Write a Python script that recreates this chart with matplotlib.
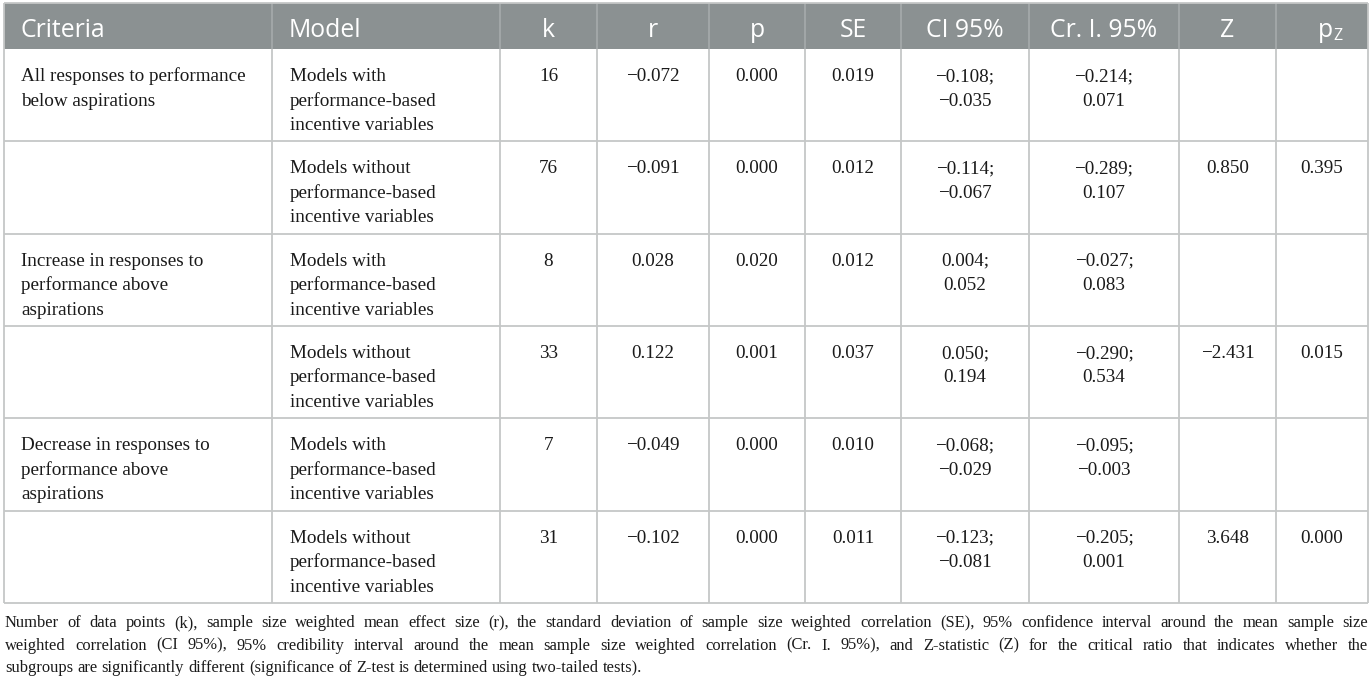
import matplotlib
matplotlib.use("Agg")
from matplotlib import pyplot as plt
from matplotlib.patches import Rectangle

# table content
headers = ["Criteria", "Model", "k", "r", "p", "SE", "CI 95%", "Cr. I. 95%", "Z", "p"]
criteria = ["All responses to performance\nbelow aspirations", "",
            "Increase in responses to\nperformance above\naspirations", "",
            "Decrease in responses to\nperformance above\naspirations", ""]
models = ["Models with\nperformance-based\nincentive variables",
          "Models without\nperformance-based\nincentive variables"] * 3
k = [16, 76, 8, 33, 7, 31]
r = [-0.072, -0.091, 0.028, 0.122, -0.049, -0.102]
p = [0.000, 0.000, 0.020, 0.001, 0.000, 0.000]
se = [0.019, 0.012, 0.012, 0.037, 0.010, 0.011]
ci_lo = [-0.108, -0.114, 0.004, 0.050, -0.068, -0.123]
ci_hi = [-0.035, -0.067, 0.052, 0.194, -0.029, -0.081]
cr_lo = [-0.214, -0.289, -0.027, -0.290, -0.095, -0.205]
cr_hi = [0.071, 0.107, 0.083, 0.534, -0.003, 0.001]
z = [None, 0.850, None, -2.431, None, 3.648]
pz = [None, 0.395, None, 0.015, None, 0.000]

footnote_lines = [
    "Number of data points (k), sample size weighted mean effect size (r), the standard deviation of "
    "sample size weighted correlation (SE), 95% confidence interval around the mean sample size",
    "weighted correlation (CI 95%), 95% credibility interval around the mean sample size weighted "
    "correlation (Cr. I. 95%), and Z-statistic (Z) for the critical ratio that indicates whether the",
    "subgroups are significantly different (significance of Z-test is determined using two-tailed tests).",
]

W, H = 1372, 683
col_x = [4, 272, 500, 597, 709, 805, 901, 1029, 1179, 1276, 1368]
top, head_bot, tab_bot = 3, 49, 603
n_rows = len(k)
row_h = (tab_bot - head_bot) / n_rows

HEAD_BG = "#8b9192"
GRID = "#c5c7c7"
TXT = "#1a1a1a"
SERIF = "Liberation Serif"
SANS = "Open Sans"
FS = 13.8
NOTE_FS = 11.9
HFS = 17.8


def fmt(v):
    if v is None:
        return ""
    s = "%.3f" % abs(v)
    return ("\u2212" + s) if v < 0 else s


fig = plt.figure(figsize=(W / 100, H / 100), dpi=100)
ax = fig.add_axes([0, 0, 1, 1])
ax.set_xlim(0, W)
ax.set_ylim(H, 0)
ax.axis("off")

# header band
ax.add_patch(Rectangle((col_x[0], top), col_x[-1] - col_x[0], head_bot - top,
                       facecolor=HEAD_BG, edgecolor="none"))
ax.vlines(col_x[1:-1], top, head_bot, color="#a9adae", lw=1.1)
for i, h in enumerate(headers):
    if i < 2:
        ax.text(col_x[i] + 17, 37, h, family=SANS, fontsize=HFS, color="white", va="baseline")
    elif i < 9:
        ax.text((col_x[i] + col_x[i + 1]) / 2, 37, h, family=SANS, fontsize=HFS,
                color="white", ha="center", va="baseline")
ax.text(1333, 37, "p", family=SANS, fontsize=HFS, color="white", ha="right", va="baseline")
ax.text(1333.5, 40, "Z", family=SANS, fontsize=11.5, color="white", ha="left", va="baseline")

# grid
ax.vlines([col_x[0], col_x[-1]], top, tab_bot, color=GRID, lw=1.3)
ax.vlines(col_x[1:-1], head_bot, tab_bot, color=GRID, lw=1.3)
ax.hlines([top], col_x[0], col_x[-1], color=GRID, lw=1.3)
ax.hlines([head_bot + row_h * i for i in range(1, n_rows + 1)], col_x[0], col_x[-1],
          color=GRID, lw=1.3)

line_gap = 24.5
for j in range(n_rows):
    y0 = head_bot + row_h * j + 32
    for li, line in enumerate(criteria[j].split("\n")):
        if line:
            ax.text(col_x[0] + 17, y0 + li * line_gap, line, family=SERIF, fontsize=FS,
                    color=TXT, va="baseline")
    for li, line in enumerate(models[j].split("\n")):
        ax.text(col_x[1] + 18, y0 + li * line_gap, line, family=SERIF, fontsize=FS,
                color=TXT, va="baseline")
    cells = [[str(k[j])], [fmt(r[j])], [fmt(p[j])], [fmt(se[j])],
             [fmt(ci_lo[j]) + ";", fmt(ci_hi[j])],
             [fmt(cr_lo[j]) + ";", fmt(cr_hi[j])],
             [fmt(z[j])], [fmt(pz[j])]]
    for c, lines in enumerate(cells):
        cx = (col_x[c + 2] + col_x[c + 3]) / 2
        for li, line in enumerate(lines):
            ax.text(cx, y0 + li * line_gap, line, family=SERIF, fontsize=FS,
                    color=TXT, ha="center", va="baseline")

# justified footnote
renderer = fig.canvas.get_renderer()
left, right = 5, 1368


def width(s):
    t = ax.text(0, 0, s, family=SERIF, fontsize=NOTE_FS)
    w = t.get_window_extent(renderer).width
    t.remove()
    return w


space_w = width("a b") - width("ab")
fy = 627
for li, text in enumerate(footnote_lines):
    words = text.split()
    ws = [width(w_) for w_ in words]
    last = li == len(footnote_lines) - 1
    gap = space_w if last else (right - left - sum(ws)) / (len(words) - 1)
    x = left
    for w_, ww in zip(words, ws):
        ax.text(x, fy + li * 22.5, w_, family=SERIF, fontsize=NOTE_FS, color=TXT, va="baseline")
        x += ww + gap

fig.savefig("out.png", dpi=100, facecolor="white")
